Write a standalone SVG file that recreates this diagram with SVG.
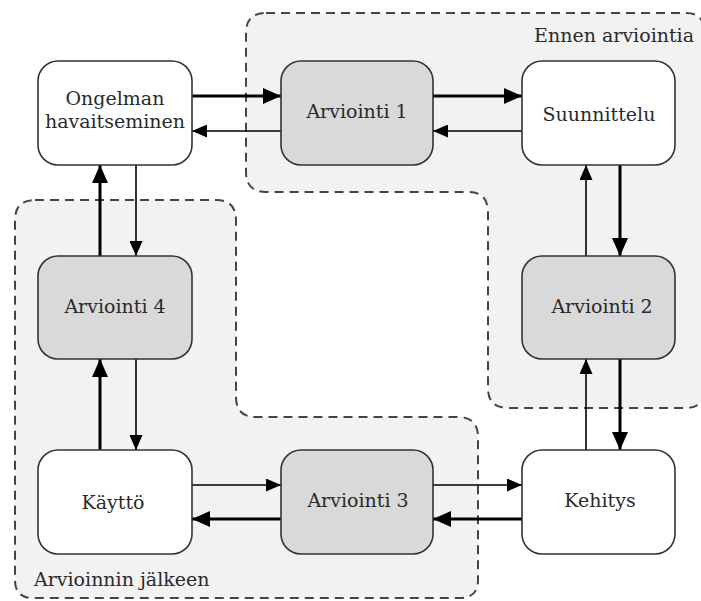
<svg xmlns="http://www.w3.org/2000/svg" width="701" height="601" viewBox="0 0 701 601">
<style>
.region{fill:#f2f2f2;stroke:#444;stroke-width:2;stroke-dasharray:9 6}
.node rect{stroke:#333;stroke-width:1.6}
.plain{fill:#fff}
.eval{fill:#d9d9d9}
text{font-family:"DejaVu Serif","Liberation Serif",serif;fill:#2a2a2a}
.lbl{font-size:19px;text-anchor:middle}
.rlbl{font-size:19px}
.thick{stroke:#000;stroke-width:3;fill:none;marker-end:url(#ahThick)}
.thin{stroke:#000;stroke-width:1.6;fill:none;marker-end:url(#ahThin)}
</style>
<defs>
<marker id="ahThick" markerWidth="18" markerHeight="16" refX="18" refY="8" orient="auto" markerUnits="userSpaceOnUse"><path d="M0,0 L18,8 L0,16 Z" fill="#000"/></marker>
<marker id="ahThin" markerWidth="15" markerHeight="13" refX="15" refY="6.5" orient="auto" markerUnits="userSpaceOnUse"><path d="M0,0 L15,6.5 L0,13 Z" fill="#000"/></marker>
</defs>
<rect width="701" height="601" fill="#fff"/>
<g id="region-ennen">
<path class="region" d="M266,13 H686 Q704,13 704,31 V390 Q704,408 686,408 H508 Q488,408 488,388 V212 Q488,192 468,192 H266 Q246,192 246,172 V33 Q246,13 266,13 Z"/>
<text class="rlbl" x="694" y="42" text-anchor="end">Ennen arviointia</text>
</g>
<g id="region-jalkeen">
<path class="region" d="M35,200 H216 Q236,200 236,220 V397 Q236,417 256,417 H458 Q478,417 478,437 V580 Q478,598 460,598 H33 Q15,598 15,580 V220 Q15,200 35,200 Z"/>
<text class="rlbl" x="34" y="586">Arvioinnin jälkeen</text>
</g>
<g id="connectors">
<line class="thick" x1="192" y1="96" x2="281" y2="96"/>
<line class="thin" x1="281" y1="131" x2="192" y2="131"/>
<line class="thick" x1="433" y1="96" x2="522" y2="96"/>
<line class="thin" x1="522" y1="131" x2="433" y2="131"/>
<line class="thin" x1="586" y1="256" x2="586" y2="165"/>
<line class="thick" x1="620" y1="165" x2="620" y2="256"/>
<line class="thin" x1="586" y1="450" x2="586" y2="359"/>
<line class="thick" x1="620" y1="359" x2="620" y2="450"/>
<line class="thin" x1="433" y1="485" x2="522" y2="485"/>
<line class="thick" x1="522" y1="519" x2="433" y2="519"/>
<line class="thin" x1="192" y1="485" x2="281" y2="485"/>
<line class="thick" x1="281" y1="519" x2="192" y2="519"/>
<line class="thick" x1="100" y1="450" x2="100" y2="359"/>
<line class="thin" x1="136" y1="359" x2="136" y2="450"/>
<line class="thick" x1="100" y1="256" x2="100" y2="165"/>
<line class="thin" x1="136" y1="165" x2="136" y2="256"/>
</g>
<g id="node-ongelman" class="node">
<rect class="plain" x="38" y="61" width="154" height="104" rx="20"/>
<text class="lbl" x="115" y="105">Ongelman</text>
<text class="lbl" x="115" y="128">havaitseminen</text>
</g>
<g id="node-arviointi1" class="node">
<rect class="eval" x="281" y="61" width="152" height="104" rx="20"/>
<text class="lbl" x="357" y="118">Arviointi 1</text>
</g>
<g id="node-suunnittelu" class="node">
<rect class="plain" x="522" y="61" width="153" height="104" rx="20"/>
<text class="lbl" x="599" y="121">Suunnittelu</text>
</g>
<g id="node-arviointi4" class="node">
<rect class="eval" x="38" y="256" width="154" height="103" rx="20"/>
<text class="lbl" x="115" y="313">Arviointi 4</text>
</g>
<g id="node-arviointi2" class="node">
<rect class="eval" x="522" y="256" width="153" height="103" rx="20"/>
<text class="lbl" x="602" y="313">Arviointi 2</text>
</g>
<g id="node-kaytto" class="node">
<rect class="plain" x="38" y="450" width="154" height="104" rx="20"/>
<text class="lbl" x="113" y="509">Käyttö</text>
</g>
<g id="node-arviointi3" class="node">
<rect class="eval" x="281" y="450" width="152" height="104" rx="20"/>
<text class="lbl" x="358" y="507">Arviointi 3</text>
</g>
<g id="node-kehitys" class="node">
<rect class="plain" x="522" y="450" width="153" height="104" rx="20"/>
<text class="lbl" x="600" y="507">Kehitys</text>
</g>
</svg>
